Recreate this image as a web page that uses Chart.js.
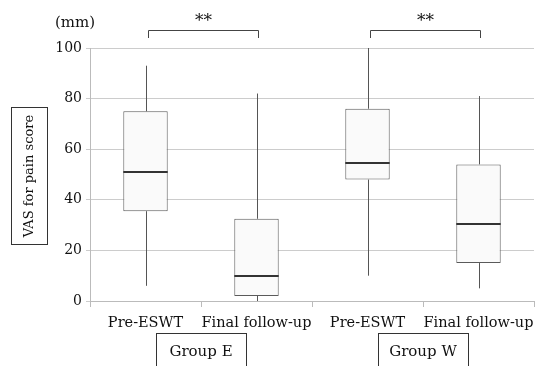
<!DOCTYPE html>
<html>
<head>
<meta charset="utf-8">
<script src="https://cdn.jsdelivr.net/npm/chart.js@4/dist/chart.umd.min.js"></script>
<style>
  body { margin: 0; background: #ffffff; }
  canvas { display: block; }
</style>
</head>
<body>
<canvas id="boxChart" width="536" height="366"></canvas>
<script>
const categories = ["Pre-ESWT", "Final follow-up", "Pre-ESWT", "Final follow-up"];
const groups = ["Group E", "Group W"];
const minValues = [6, 0, 10, 5];
const q1Values = [35.5, 2, 48, 15];
const medianValues = [51, 10, 54.5, 30.5];
const q3Values = [75, 32.5, 76, 54];
const maxValues = [93, 82, 100, 81];
const yTicks = [0, 20, 40, 60, 80, 100];
const sigPairs = [[0, 1], [2, 3]];
const sigLabels = ["**", "**"];

const serif = "'DejaVu Serif', 'Liberation Serif', serif";
const ctx = document.getElementById("boxChart").getContext("2d");

const boxPlugin = {
  id: "boxExtras",
  beforeDatasetsDraw(chart) {
    const c = chart.ctx;
    const x = chart.scales.x;
    const y = chart.scales.y;
    c.save();
    c.strokeStyle = "#555555";
    c.lineWidth = 1;
    categories.forEach((cat, i) => {
      const px = Math.round(x.getPixelForValue(i)) + 0.5;
      c.beginPath();
      c.moveTo(px, y.getPixelForValue(maxValues[i]));
      c.lineTo(px, y.getPixelForValue(q3Values[i]));
      c.moveTo(px, y.getPixelForValue(q1Values[i]));
      c.lineTo(px, y.getPixelForValue(minValues[i]));
      c.stroke();
    });
    c.restore();
  },
  afterDatasetsDraw(chart) {
    const c = chart.ctx;
    const y = chart.scales.y;
    const meta = chart.getDatasetMeta(0);
    c.save();
    c.strokeStyle = "#333333";
    c.lineWidth = 2;
    meta.data.forEach((bar, i) => {
      const half = bar.width / 2;
      const py = Math.round(y.getPixelForValue(medianValues[i]));
      c.beginPath();
      c.moveTo(bar.x - half, py);
      c.lineTo(bar.x + half, py);
      c.stroke();
    });
    c.restore();
  },
  afterDraw(chart) {
    const c = chart.ctx;
    const x = chart.scales.x;
    c.save();
    c.fillStyle = "#111111";
    c.strokeStyle = "#333333";
    c.lineWidth = 1;

    // unit label
    c.font = "15px " + serif;
    c.textAlign = "center";
    c.textBaseline = "middle";
    c.fillText("(mm)", 75, 23);

    // y axis title in a box
    c.strokeRect(11.5, 107.5, 36, 137);
    c.save();
    c.translate(30, 176);
    c.rotate(-Math.PI / 2);
    c.font = "13px " + serif;
    c.fillText("VAS for pain score", 0, 0);
    c.restore();

    // significance brackets
    sigPairs.forEach((pair, k) => {
      const x1 = Math.round(x.getPixelForValue(pair[0])) + 2.5;
      const x2 = Math.round(x.getPixelForValue(pair[1])) + 1.5;
      c.strokeStyle = "#444444";
      c.beginPath();
      c.moveTo(x1, 38);
      c.lineTo(x1, 30.5);
      c.lineTo(x2, 30.5);
      c.lineTo(x2, 38);
      c.stroke();
      c.font = "17px " + serif;
      c.fillText(sigLabels[k], (x1 + x2) / 2, 22);
    });

    // group label boxes
    groups.forEach((g, k) => {
      const cx = (x.getPixelForValue(2 * k) + x.getPixelForValue(2 * k + 1)) / 2;
      const w = 90;
      c.strokeStyle = "#333333";
      c.strokeRect(Math.round(cx - w / 2) + 0.5, 333.5, w, 40);
      c.font = "15px " + serif;
      c.fillText(g, cx, 352);
    });
    c.restore();
  }
};

new Chart(ctx, {
  type: "bar",
  data: {
    labels: categories,
    datasets: [{
      data: q1Values.map((q, i) => [q, q3Values[i]]),
      backgroundColor: "#fafafa",
      borderColor: "#5a5a5a",
      borderWidth: 1,
      borderSkipped: false,
      categoryPercentage: 1,
      barPercentage: 0.4
    }]
  },
  options: {
    responsive: false,
    devicePixelRatio: 1,
    animation: false,
    layout: { padding: { top: 48, right: 2, left: 0, bottom: 0 } },
    plugins: {
      legend: { display: false },
      tooltip: { enabled: false }
    },
    scales: {
      x: {
        grid: { drawOnChartArea: false, drawTicks: true, tickLength: 6, color: "#bbbbbb", offset: true },
        border: { color: "#bbbbbb" },
        ticks: { color: "#111111", font: { family: serif, size: 14.5 }, padding: 8, maxRotation: 0, autoSkip: false },
        afterFit(scale) {
          scale.height = 65;
          scale.paddingLeft = 0;
          scale.paddingRight = 0;
        }
      },
      y: {
        min: 0,
        max: 100,
        afterBuildTicks(scale) { scale.ticks = yTicks.map(v => ({ value: v })); },
        grid: { color: "#cccccc", tickLength: 4 },
        border: { color: "#bbbbbb" },
        ticks: { color: "#111111", font: { family: serif, size: 14 }, padding: 4 },
        afterFit(scale) { scale.width = 90; }
      }
    }
  },
  plugins: [boxPlugin]
});
</script>
</body>
</html>
